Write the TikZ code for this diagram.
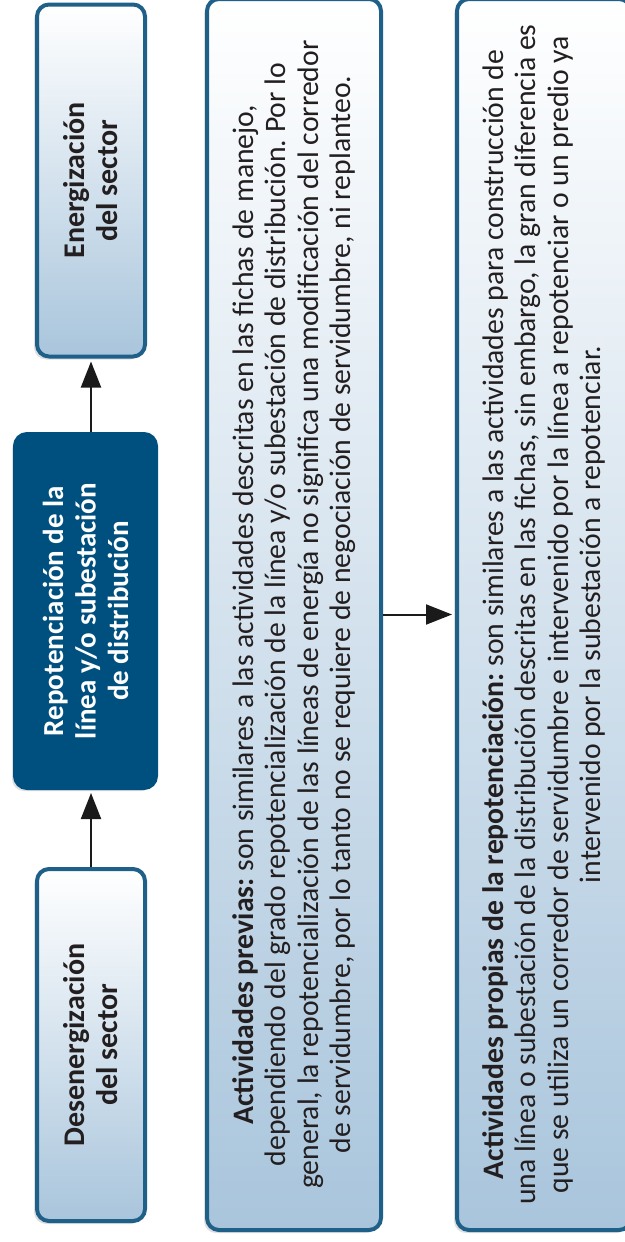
\documentclass[tikz,border=0pt]{standalone}
\usepackage{fontspec}
\setmainfont{Carlito}
\frenchspacing
\usetikzlibrary{arrows.meta, positioning, shadows}
\definecolor{edgecol}{HTML}{1F6088}
\definecolor{lightcol}{HTML}{A9C5DC}
\definecolor{darkcol}{HTML}{00507F}
\definecolor{arrowcol}{HTML}{1A1A1A}
\definecolor{inkcol}{HTML}{231F20}
\tikzset{
  stepbox/.style={rectangle, rounded corners=12pt, draw=edgecol, line width=4pt,
    top color=white, bottom color=lightcol, rotate=90, align=center, inner sep=0pt,
    text=inkcol, font=\bfseries\fontsize{30}{33}\selectfont,
    drop shadow={shadow xshift=-3pt, shadow yshift=-3pt, opacity=0.25},
    minimum width=352pt, minimum height=108pt},
  mainbox/.style={stepbox, draw=darkcol, top color=darkcol, bottom color=darkcol,
    text=white, font=\bfseries\fontsize{29}{32.5}\selectfont,
    minimum width=354pt, minimum height=141pt},
  notebox/.style={stepbox, font=\fontsize{29.7}{32.5}\selectfont,
    minimum width=1231pt, minimum height=174pt},
  flow/.style={-{Triangle[length=26pt, width=20pt]}, line width=2pt, draw=arrowcol},
}
\begin{document}
\begin{tikzpicture}[x=1pt, y=-1pt]
  \useasboundingbox (0,0) rectangle (624,1242);
  % upper row: the three steps
  \node[stepbox] (des) at (91, 1045) {Desenergización\\del sector};
  \node[mainbox] (rep) at (85.5, 611) {Repotenciación de la\\línea y/o subestación\\de distribución};
  \node[stepbox] (ene) at (91, 180.5) {Energización\\del sector};
  % lower row: the two notes
  \node[notebox] (prev) at (294, 614.5) {\textbf{Actividades previas:} son similares a las actividades descritas en las fichas de manejo,\\
    dependiendo del grado repotencialización de la línea y/o subestación de distribución. Por lo\\
    general, la repotencialización de las líneas de energía no significa una modificación del corredor\\
    de servidumbre, por lo tanto no se requiere de negociación de servidumbre, ni replanteo.};
  \node[notebox] (prop) at (544, 614.5) {\textbf{Actividades propias de la repotenciación:} son similares a las actividades para construcción de\\
    una línea o subestación de la distribución descritas en las fichas, sin embargo, la gran diferencia es\\
    que se utiliza un corredor de servidumbre e intervenido por la línea a repotenciar o un predio ya\\
    intervenido por la subestación a repotenciar.};
  \draw[flow, shorten >=3pt] (des.east) -- (des.east |- rep.west);
  \draw[flow, shorten >=3pt] (rep.east -| ene.west) -- (ene.west);
  \draw[flow, shorten >=3pt] (prev.south) -- (prop.north);
\end{tikzpicture}
\end{document}
